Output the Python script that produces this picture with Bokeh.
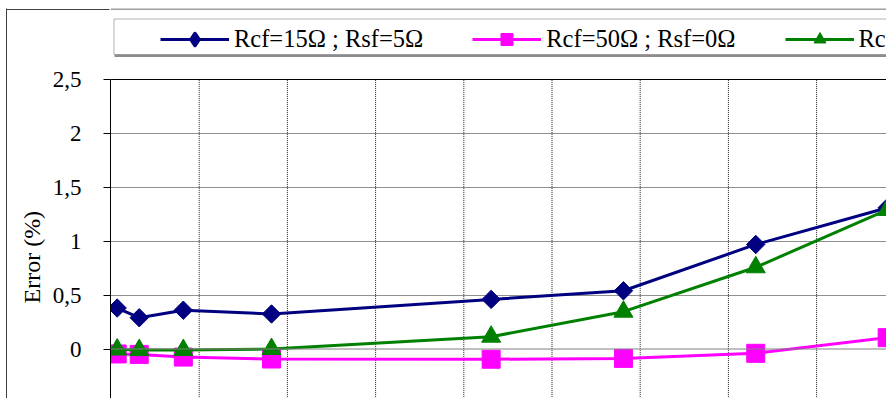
import math
from bokeh.plotting import figure
from bokeh.models import (Range1d, FixedTicker, Span, Legend, LegendItem,
                          BoxAnnotation, LinearAxis, Title)
from bokeh.embed import file_html
from bokeh.resources import INLINE

# ---- data ----
x_vals = [0.7, 3.2, 8.2, 18.2, 43.1, 58.1, 73.1, 88.0]
err_rcf15_rsf5 = [0.38, 0.29, 0.36, 0.325, 0.46, 0.54, 0.97, 1.31]
err_rcf50_rsf0 = [-0.046, -0.05, -0.075, -0.093, -0.095, -0.087, -0.04, 0.105]
err_third = [-0.005, -0.01, -0.01, 0.0, 0.114, 0.346, 0.758, 1.29]
series_labels = ["Rcf=15Ω ; Rsf=5Ω", "Rcf=50Ω ; Rsf=0Ω", "Rcf=50Ω ; Rsf=5Ω"]
y_ticks = [-0.5, 0, 0.5, 1, 1.5, 2, 2.5]
y_tick_labels = ["-0,5", "0", "0,5", "1", "1,5", "2", "2,5"]
y_grid = [0.5, 1, 1.5, 2]
x_grid = [10, 20, 30, 40, 50, 60, 70, 80]
y_title = "Error (%)"

FONT = "Liberation Serif"
NAVY = "#000080"
MAGENTA = "#FF00FF"
GREEN = "#008000"
BORDER = "#404040"

# ---- layout geometry (pixels) ----
W, H = 886, 398
FRAME_LEFT, FRAME_TOP = 110, 8
PX_PER_X = 8.82          # pixels per x unit
PX_PER_Y = 107.8         # pixels per y unit
X0_PX = 110.5            # pixel of x = 0
Y_TOP_VALUE = 2.5        # value at plot-area top
Y_TOP_PX = 79            # pixel of plot-area top

def px_to_x(px):
    return (px - X0_PX) / PX_PER_X

def px_to_y(py):
    return Y_TOP_VALUE + (Y_TOP_PX - py) / PX_PER_Y

p = figure(width=W, height=H, output_backend="svg", toolbar_location=None,
           x_range=Range1d(px_to_x(FRAME_LEFT), px_to_x(W)),
           y_range=Range1d(px_to_y(H), px_to_y(FRAME_TOP)),
           min_border_left=FRAME_LEFT, min_border_top=FRAME_TOP,
           min_border_right=0, min_border_bottom=0)
p.outline_line_color = None
p.background_fill_color = "white"
p.border_fill_color = "white"
p.xaxis.visible = False
p.xgrid.visible = False

# main y axis
yax = p.yaxis[0]
yax.bounds = (y_ticks[0], Y_TOP_VALUE)
yax.ticker = FixedTicker(ticks=y_ticks)
yax.major_label_overrides = {t: l for t, l in zip(y_ticks, y_tick_labels)}
yax.axis_line_color = "black"
yax.major_tick_out = 7
yax.major_tick_in = 0
yax.major_tick_line_color = "black"
yax.minor_tick_line_color = None
yax.major_label_standoff = 22
yax.major_label_text_font = FONT
yax.major_label_text_font_size = "23px"
yax.major_label_text_color = "black"

# y axis title (a side title, so that it can be moved along the axis)
ytitle = Title(text=y_title, align="left", offset=95, standoff=10,
               text_font=FONT, text_font_size="24px", text_font_style="normal",
               text_color="black")

def helper_axis(tick_out=0, line_color=None, minor=None, minor_in=0):
    ax = LinearAxis(ticker=FixedTicker(ticks=[1], minor_ticks=minor or []))
    ax.major_label_overrides = {1: ""}
    ax.major_label_standoff = 0
    ax.major_tick_out = tick_out
    ax.major_tick_in = 0
    ax.major_tick_line_color = None
    ax.axis_line_color = line_color
    ax.minor_tick_out = 0
    ax.minor_tick_in = minor_in
    ax.minor_tick_line_color = BORDER if minor else None
    return ax

# chart-area border: left edge and the left part of the top edge
gap_axis = helper_axis(tick_out=5)
left_edge_axis = helper_axis(line_color=BORDER, minor=[px_to_y(FRAME_TOP + 0.5)],
                             minor_in=FRAME_LEFT - 7)
p.left = [yax, ytitle, gap_axis, left_edge_axis]

# chart-area border: top edge over the plot
p.add_layout(Span(location=px_to_y(FRAME_TOP + 0.5), dimension="width",
                  line_color=BORDER, line_width=1))

# grids
p.ygrid.ticker = FixedTicker(ticks=y_grid)
p.ygrid.grid_line_color = "#202020"
p.ygrid.grid_line_dash = "1 1"
p.segment(x0=x_grid, x1=x_grid, y0=[y_ticks[0]] * len(x_grid),
          y1=[Y_TOP_VALUE] * len(x_grid), line_color="#202020", line_dash="1 1",
          line_width=1)

# zero line and top border of plot area
p.add_layout(Span(location=0, dimension="width", line_color="#808080", line_width=1))
p.add_layout(Span(location=Y_TOP_VALUE, dimension="width", line_color="black",
                  line_width=1))

# legend box with its shadow
p.add_layout(BoxAnnotation(left=px_to_x(114), right=px_to_x(W + 50),
                           top=px_to_y(54), bottom=px_to_y(56.5),
                           fill_color="#8c8c8c", fill_alpha=1, line_color=None))
p.add_layout(BoxAnnotation(left=px_to_x(113.5), right=px_to_x(W + 50),
                           top=px_to_y(18.5), bottom=px_to_y(54),
                           fill_color="white", fill_alpha=1,
                           line_color="black", line_width=1))

# series
l1 = p.line(x_vals, err_rcf15_rsf5, line_width=3, color=NAVY)
m1 = p.scatter(x_vals, err_rcf15_rsf5, marker="square", angle=math.pi / 4,
               size=13, color=NAVY)
l2 = p.line(x_vals, err_rcf50_rsf0, line_width=3, color=MAGENTA)
m2 = p.scatter(x_vals, err_rcf50_rsf0, marker="square", size=18, color=MAGENTA)
l3 = p.line(x_vals, err_third, line_width=3, color=GREEN)
m3 = p.scatter(x_vals, err_third, marker="triangle", size=19, color=GREEN)
# legend-only marker for the first series (an upright diamond, thick outline)
m1_key = p.scatter(x_vals, err_rcf15_rsf5, marker="diamond", size=13, color=NAVY,
                   line_width=3.5, line_join="round", visible=False)

legend = Legend(items=[
    LegendItem(label=series_labels[0], renderers=[l1, m1_key]),
    LegendItem(label=series_labels[1], renderers=[l2, m2]),
    LegendItem(label=series_labels[2], renderers=[l3, m3]),
], orientation="horizontal", location=(160 - FRAME_LEFT, H - 18 - 36))
legend.border_line_color = None
legend.background_fill_color = None
legend.background_fill_alpha = 0
legend.inactive_fill_alpha = 0
legend.padding = 3
legend.margin = 0
legend.spacing = 49
legend.glyph_width = 69
legend.glyph_height = 30
legend.label_standoff = 5
legend.label_text_font = FONT
legend.label_text_font_size = "24.5px"
legend.label_text_color = "black"
p.add_layout(legend, "center")

open("out.html", "w").write(file_html(p, INLINE))
